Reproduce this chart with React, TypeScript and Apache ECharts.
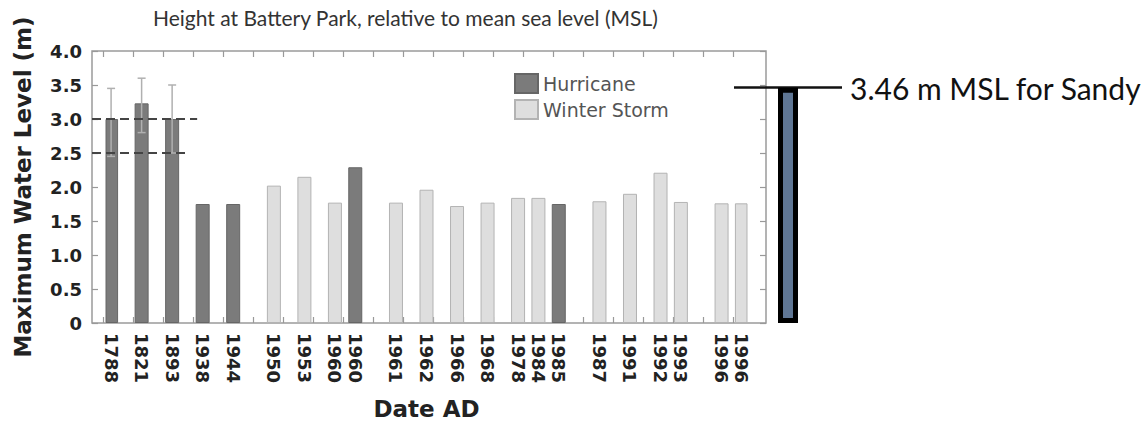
import React, { useEffect, useRef } from 'react';
import * as echarts from 'echarts';

// ---- data ----
const years = ['1788', '1821', '1893', '1938', '1944', '1950', '1953', '1960', '1960', '1961', '1962', '1966', '1968', '1978', '1984', '1985', '1987', '1991', '1992', '1993', '1996', '1996'];
const maxWaterLevel = [3.0, 3.23, 3.0, 1.75, 1.75, 2.02, 2.15, 1.77, 2.29, 1.77, 1.96, 1.72, 1.77, 1.84, 1.84, 1.75, 1.79, 1.9, 2.21, 1.78, 1.76, 1.76];
const stormType = ['H', 'H', 'H', 'H', 'H', 'W', 'W', 'W', 'H', 'W', 'W', 'W', 'W', 'W', 'W', 'H', 'W', 'W', 'W', 'W', 'W', 'W'];
const errorLow = [2.45, 2.8, 2.5, null, null, null, null, null, null, null, null, null, null, null, null, null, null, null, null, null, null, null];
const errorHigh = [3.45, 3.6, 3.5, null, null, null, null, null, null, null, null, null, null, null, null, null, null, null, null, null, null, null];
const referenceLevels = [3.0, 2.5];
const sandyLevel = 3.46;
const seriesNames = ['Hurricane', 'Winter Storm'];
const titleText = 'Height at Battery Park, relative to mean sea level (MSL)';

// ---- layout: spacing (in slots) between consecutive bars ----
const slotSteps = [3, 3, 3, 3, 4, 3, 3, 2, 4, 3, 3, 3, 3, 2, 2, 4, 3, 3, 2, 4, 2];
const refLineEnds = [15.6, 14.4]; // percent of frame width

export default function App() {
  const ref = useRef<HTMLDivElement>(null);
  useEffect(() => {
    if (!ref.current) return;
    const chart = echarts.init(ref.current, undefined, { renderer: 'svg' });

    const slotIndex: number[] = [0];
    slotSteps.forEach((s, i) => slotIndex.push(slotIndex[i] + s));
    const nSlots = slotIndex[slotIndex.length - 1] + 1;
    const categories: string[] = new Array(nSlots).fill('');
    const hurricane: (number | null)[] = new Array(nSlots).fill(null);
    const winter: (number | null)[] = new Array(nSlots).fill(null);
    const errData: number[][] = [];
    years.forEach((y, i) => {
      const s = slotIndex[i];
      categories[s] = y;
      if (stormType[i] === 'H') hurricane[s] = maxWaterLevel[i];
      else winter[s] = maxWaterLevel[i];
      if (errorLow[i] != null && errorHigh[i] != null) errData.push([s, errorLow[i] as number, errorHigh[i] as number]);
    });

    const top = 51, height = 272;
    const bold = { fontFamily: 'DejaVu Sans', fontWeight: 'bold' as const, color: '#222' };

    chart.setOption({
      animation: false,
      backgroundColor: '#fff',
      title: {
        text: titleText,
        left: 148,
        top: 2,
        textStyle: { fontFamily: 'Lato', fontSize: 21, fontWeight: 'normal', color: '#333' },
      },
      legend: {
        data: seriesNames,
        orient: 'vertical',
        left: 509,
        top: 68,
        itemWidth: 23,
        itemHeight: 19,
        itemGap: 5,
        icon: 'rect',
        textStyle: { fontFamily: 'DejaVu Sans', fontSize: 19, color: '#555' },
      },
      grid: [
        { left: 92, top, width: 674, height, show: true, borderColor: '#9a9a9a', borderWidth: 1.5, backgroundColor: 'transparent' },
        { left: 106, top, width: 641, height },
        { left: 103, top, width: 630, height },
        { left: 734, top, width: 108, height },
      ],
      xAxis: [
        { gridIndex: 0, type: 'value', min: 0, max: 100, show: false },
        {
          gridIndex: 1,
          type: 'category',
          data: categories,
          axisLine: { show: false },
          axisTick: { show: false },
          axisLabel: { interval: 0, rotate: -90, margin: 10, fontSize: 18, ...bold },
          name: 'Date AD',
          nameLocation: 'middle',
          nameGap: 74,
          nameTextStyle: { fontSize: 23, ...bold },
        },
        {
          gridIndex: 2, type: 'value', min: 0, max: 21, interval: 1, position: 'bottom',
          axisLine: { show: false }, axisLabel: { show: false }, splitLine: { show: false },
          axisTick: { show: true, inside: true, length: 6, lineStyle: { color: '#999', width: 1.2 } },
        },
        {
          gridIndex: 2, type: 'value', min: 0, max: 21, interval: 1, position: 'top',
          axisLine: { show: false }, axisLabel: { show: false }, splitLine: { show: false },
          axisTick: { show: true, inside: true, length: 6, lineStyle: { color: '#999', width: 1.2 } },
        },
        { gridIndex: 3, type: 'category', data: ['Sandy'], show: false },
      ],
      yAxis: [
        {
          gridIndex: 0, type: 'value', min: 0, max: 4, interval: 0.5, position: 'left',
          axisLine: { show: false }, splitLine: { show: false },
          axisTick: { show: true, inside: true, length: 6, lineStyle: { color: '#999', width: 1.2 } },
          axisLabel: { margin: 10, fontSize: 18, ...bold, formatter: (v: number) => (v === 0 ? '0' : v.toFixed(1)) },
          name: 'Maximum Water Level (m)',
          nameLocation: 'middle',
          nameGap: 58,
          nameTextStyle: { fontSize: 23, ...bold },
        },
        {
          gridIndex: 0, type: 'value', min: 0, max: 4, interval: 0.5, position: 'right',
          axisLine: { show: false }, splitLine: { show: false }, axisLabel: { show: false },
          axisTick: { show: true, inside: true, length: 6, lineStyle: { color: '#999', width: 1.2 } },
        },
        { gridIndex: 1, type: 'value', min: 0, max: 4, show: false },
        { gridIndex: 2, type: 'value', min: 0, max: 4, show: false },
        { gridIndex: 3, type: 'value', min: 0, max: 4, show: false },
      ],
      series: [
        {
          type: 'line',
          xAxisIndex: 0,
          yAxisIndex: 0,
          data: [],
          z: 1,
          markLine: {
            silent: true,
            symbol: ['none', 'none'],
            label: { show: false },
            lineStyle: { color: '#444', width: 2, type: [9, 5] },
            data: referenceLevels.map((lv, i) => [{ coord: [0, lv] }, { coord: [refLineEnds[i], lv] }]),
          },
        },
        {
          name: seriesNames[0],
          type: 'bar',
          xAxisIndex: 1,
          yAxisIndex: 2,
          data: hurricane,
          barWidth: 14,
          barGap: '-100%',
          itemStyle: { color: '#7b7b7b', borderColor: '#666', borderWidth: 1 },
          z: 3,
        },
        {
          name: seriesNames[1],
          type: 'bar',
          xAxisIndex: 1,
          yAxisIndex: 2,
          data: winter,
          barWidth: 14,
          barGap: '-100%',
          itemStyle: { color: '#dedede', borderColor: '#b3b3b3', borderWidth: 1 },
          z: 3,
        },
        {
          type: 'custom',
          xAxisIndex: 1,
          yAxisIndex: 2,
          data: errData,
          z: 4,
          renderItem: (params: any, api: any) => {
            const x = api.value(0);
            const pLo = api.coord([x, api.value(1)]);
            const pHi = api.coord([x, api.value(2)]);
            const cap = 4;
            const style = { stroke: '#b0b0b0', lineWidth: 1.5 };
            return {
              type: 'group',
              children: [
                { type: 'line', shape: { x1: pHi[0], y1: pHi[1], x2: pLo[0], y2: pLo[1] }, style },
                { type: 'line', shape: { x1: pHi[0] - cap, y1: pHi[1], x2: pHi[0] + cap, y2: pHi[1] }, style },
                { type: 'line', shape: { x1: pLo[0] - cap, y1: pLo[1], x2: pLo[0] + cap, y2: pLo[1] }, style },
              ],
            };
          },
        },
        {
          name: 'Sandy',
          type: 'bar',
          xAxisIndex: 4,
          yAxisIndex: 4,
          data: [sandyLevel],
          barWidth: 20,
          itemStyle: { color: '#5f7694', borderColor: '#000', borderWidth: 5 },
          z: 5,
          markLine: {
            silent: true,
            symbol: ['none', 'none'],
            lineStyle: { color: '#111', width: 2.5, type: 'solid' },
            label: {
              show: true,
              position: 'end',
              distance: 8,
              formatter: (p: any) => `${p.value} m MSL for Sandy`,
              fontFamily: 'Lato',
              fontSize: 30,
              color: '#111',
            },
            data: [{ yAxis: sandyLevel }],
          },
        },
      ],
    });
    return () => chart.dispose();
  }, []);
  return <div ref={ref} style={{ position: 'fixed', left: 0, top: 0, width: 1143, height: 425 }} />;
}
